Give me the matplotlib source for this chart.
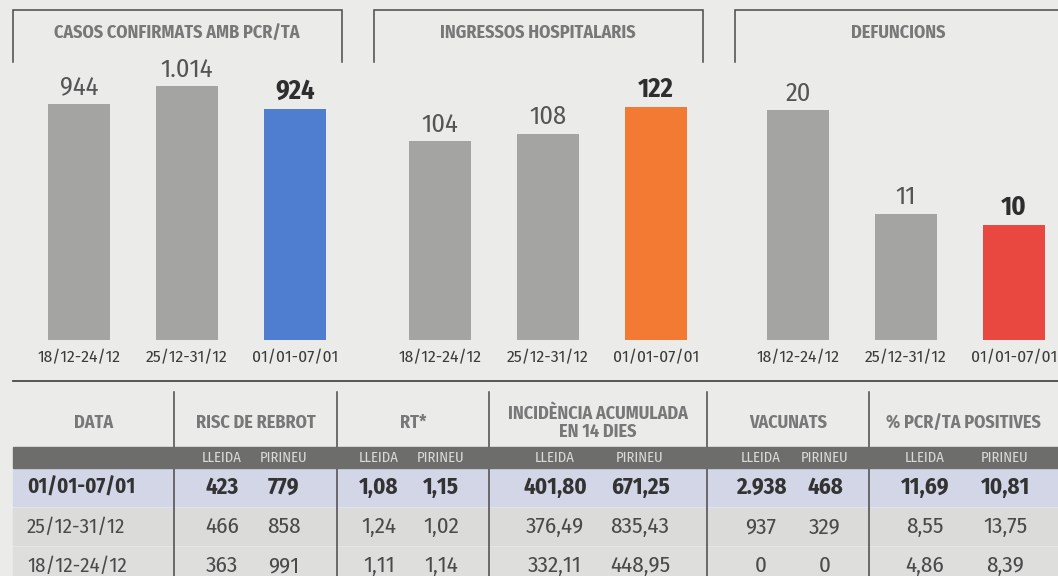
import matplotlib
matplotlib.use("Agg")
import matplotlib.pyplot as plt
from matplotlib.patches import Rectangle

plt.rcParams["font.family"] = ["Fira Sans Condensed", "DejaVu Sans"]

W, H = 1058, 576

# bar charts
weeks = ["18/12-24/12", "25/12-31/12", "01/01-07/01"]
casos = [944, 1014, 924]
ingressos = [104, 108, 122]
defuncions = [20, 11, 10]
chart_titles = ["CASOS CONFIRMATS AMB PCR/TA", "INGRESSOS HOSPITALARIS", "DEFUNCIONS"]

# table
table_dates = ["01/01-07/01", "25/12-31/12", "18/12-24/12"]
risc_lleida = [423, 466, 363]
risc_pirineu = [779, 858, 991]
rt_lleida = [1.08, 1.24, 1.11]
rt_pirineu = [1.15, 1.02, 1.14]
ia14_lleida = [401.80, 376.49, 332.11]
ia14_pirineu = [671.25, 835.43, 448.95]
vacunats_lleida = [2938, 937, 0]
vacunats_pirineu = [468, 329, 0]
pcr_lleida = [11.69, 8.55, 4.86]
pcr_pirineu = [10.81, 13.75, 8.39]
table_headers = ["DATA", "RISC DE REBROT", "RT*", "INCIDÈNCIA ACUMULADA\nEN 14 DIES",
                 "VACUNATS", "% PCR/TA POSITIVES"]
sub_headers = ["LLEIDA", "PIRINEU"]

PAPER = "#ebebe9"
GREY_BAR = "#a4a4a2"
HIGHLIGHT = ["#4f7ed0", "#f27a33", "#e8483f"]
TITLE_GREY = "#787878"
TEXT = "#3c3c3c"
LINE = "#4a4a4a"


def fmt(v, decimals=0):
    s = f"{v:,.{decimals}f}"
    return s.replace(",", "_").replace(".", ",").replace("_", ".")


def px_axes(fig, x0, y0, x1, y1, **kw):
    return fig.add_axes([x0 / W, 1 - y1 / H, (x1 - x0) / W, (y1 - y0) / H], **kw)


fig = plt.figure(figsize=(W / 100, H / 100), dpi=100, facecolor=PAPER)

# full-figure layer in pixel coordinates for frames and the table
bg = px_axes(fig, 0, 0, W, H)
bg.set_xlim(0, W)
bg.set_ylim(H, 0)
bg.axis("off")
bg.set_zorder(0)

# chart frames (bracket) and titles
frames = [(13, 342), (374, 703), (735, 1062)]
title_x = [177, 538, 898]
for (fx0, fx1), tx, title in zip(frames, title_x, chart_titles):
    bg.plot([fx0, fx0, fx1, fx1], [62, 10, 10, 62], color=LINE, lw=1.1, solid_joinstyle="miter")
    bg.text(tx, 33, title, ha="center", va="center",
            fontsize=13, fontweight="bold", color=TITLE_GREY)

# bar panels
series = [casos, ingressos, defuncions]
panel_x = [(25, 349), (386, 710), (744, 1068)]
headroom = [1.103, 1.202, 1.218]
for (ax0, ax1), values, color, room in zip(panel_x, series, HIGHLIGHT, headroom):
    ax = px_axes(fig, ax0, 60, ax1, 340)
    ax.set_zorder(2)
    ax.patch.set_alpha(0)
    colors = [GREY_BAR] * (len(values) - 1) + [color]
    bars = ax.bar(range(len(values)), values, width=0.57, color=colors)
    ax.set_xlim(-0.5, len(values) - 0.5)
    ax.set_ylim(0, max(values) * room)
    for i, (b, v) in enumerate(zip(bars, values)):
        last = i == len(values) - 1
        ax.annotate(fmt(v), (b.get_x() + b.get_width() / 2, v), xytext=(0, 3),
                    textcoords="offset points", ha="center", va="bottom",
                    fontsize=19, fontweight="bold" if last else "normal",
                    color="#2e2e2e" if last else "#555555")
    ax.set_xticks(range(len(values)), weeks)
    ax.tick_params(axis="x", length=0, pad=7, labelsize=12.5, labelcolor=TEXT)
    ax.set_yticks([])
    for s in ax.spines.values():
        s.set_visible(False)

# table
bg.plot([13, W], [381, 381], color=LINE, lw=1.3)
vlines = [174, 337, 489, 707, 869]
for x in vlines:
    bg.plot([x, x], [392, H], color=LINE, lw=1.1, zorder=3)

bounds = [13] + vlines + [W]
for (x0, x1), head in zip(zip(bounds[:-1], bounds[1:]), table_headers):
    bg.text((x0 + x1) / 2, 423, head, ha="center", va="center", fontsize=13,
            fontweight="bold", color=TITLE_GREY, linespacing=1.0)

bg.add_patch(Rectangle((13, 447), W - 13, 21, color="#6d6d6b", zorder=4))
row_y = [(469, 506), (508, 545), (547, H + 2)]
row_text_y = [487, 527, 566]
row_colors = ["#d3d6e6", "#dbdbda", "#dededd"]
for (y0, y1), c in zip(row_y, row_colors):
    bg.add_patch(Rectangle((13, y0), W - 13, y1 - y0, color=c, zorder=1))

columns = [
    (risc_lleida, risc_pirineu, 0, (222, 284)),
    (rt_lleida, rt_pirineu, 2, (379, 441)),
    (ia14_lleida, ia14_pirineu, 2, (555, 640)),
    (vacunats_lleida, vacunats_pirineu, 0, (761, 825)),
    (pcr_lleida, pcr_pirineu, 2, (925, 1005)),
]
for _, _, _, xs in columns:
    for x, sub in zip(xs, sub_headers):
        bg.text(x, 458, sub, ha="center", va="center", fontsize=10.5, color="#dadada", zorder=5)

for r, (yc, date) in enumerate(zip(row_text_y, table_dates)):
    weight = "bold" if r == 0 else "normal"
    col = "#333333" if r == 0 else "#4a4a4a"
    bg.text(27, yc, date, ha="left", va="center", fontsize=15, fontweight=weight, color=col, zorder=5)
    for left, right, dec, xs in columns:
        for x, vals in zip(xs, (left, right)):
            bg.text(x, yc, fmt(vals[r], dec), ha="center", va="center", fontsize=16.5,
                    fontweight=weight, color=col, zorder=5)

fig.savefig("out.png", dpi=100, facecolor=PAPER)
